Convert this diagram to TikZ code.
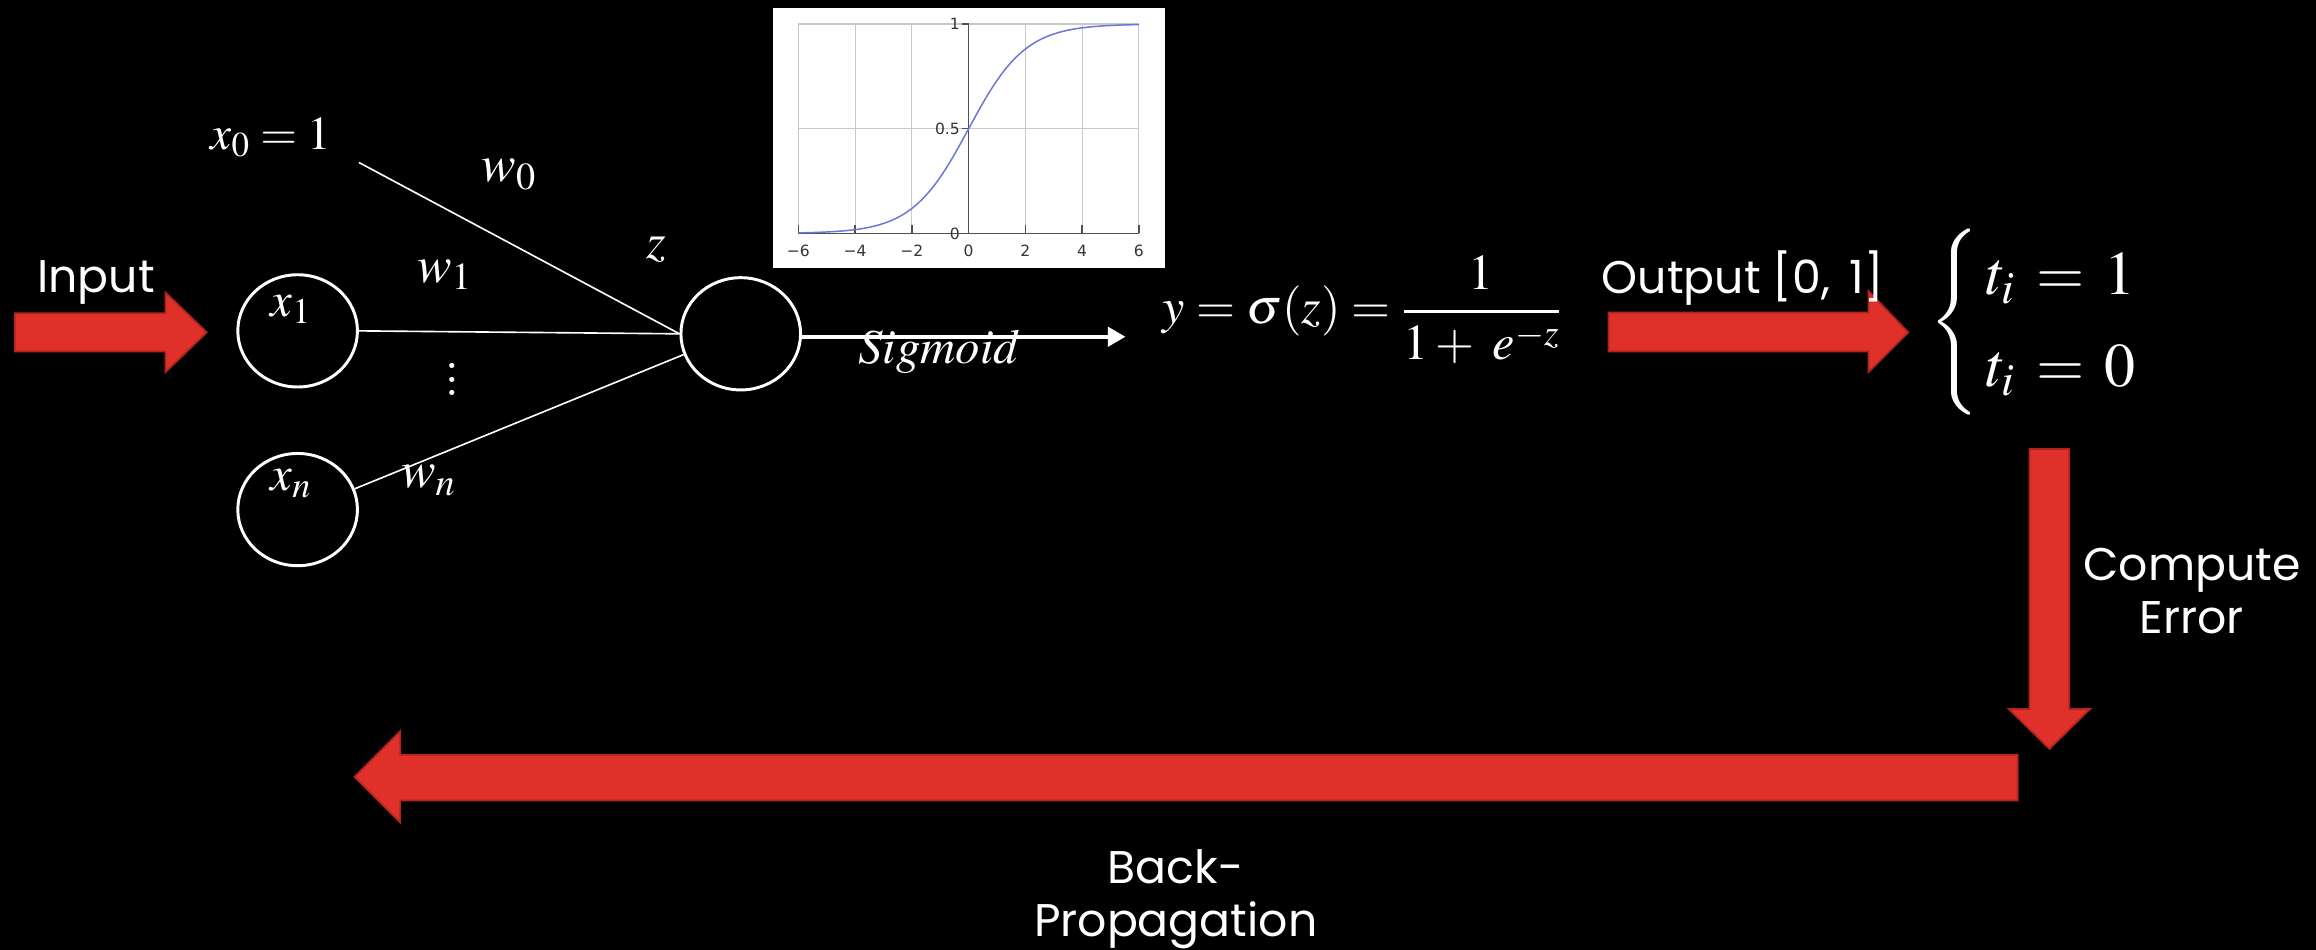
\documentclass[tikz,border=0pt]{standalone}
\usepackage{amsmath}
\usepackage{mathptmx}
\usepackage{fontspec}
\setsansfont{Poppins}
\newfontfamily\tickfont{DejaVu Sans}
\usetikzlibrary{shapes.geometric,arrows.meta}
\definecolor{arrred}{HTML}{E0302A}
\definecolor{arrborder}{HTML}{B02420}
\definecolor{curveblue}{HTML}{6B76D6}
\definecolor{gridgray}{HTML}{C8C8C8}
\definecolor{axisgray}{HTML}{505050}
\tikzset{
 neuron/.style={ellipse, draw=white, line width=2pt, minimum width=81pt, minimum height=76pt, inner sep=0pt},
 wire/.style={draw=white, line width=1.1pt},
 gothic/.style={text=white, font=\sffamily\fontsize{31}{36}\selectfont, inner sep=0pt},
 mathlbl/.style={text=white, inner sep=0pt, font=\fontsize{#1}{#1}\selectfont},
 redarrow/.style={fill=arrred, draw=arrborder, line width=1.2pt, line join=miter},
 ticklbl/.style={text=black!80, inner sep=0pt, font=\tickfont\fontsize{10.5}{12}\selectfont},
 gridline/.style={draw=gridgray, line width=0.8pt},
 axisline/.style={draw=axisgray, line width=1pt},
}
\begin{document}
\begin{tikzpicture}[x=1pt,y=-1pt]
\useasboundingbox (0,0) rectangle (1568,643);
\fill[black] (0,0) rectangle (1568,643);
% sigmoid plot
\fill[white] (523,5.6) rectangle (789,181.6);
\foreach \t in {-6,-4,...,6} \draw[gridline] ({655.8+\t*19.21},16.3) -- ({655.8+\t*19.21},158);
\foreach \v in {0.5,1} \draw[gridline] (540.5,{158-\v*141.7}) -- (771,{158-\v*141.7});
\draw[axisline] (540.5,158) -- (771,158);
\draw[axisline] (655.8,16.3) -- (655.8,158);
\foreach \t in {-6,-4,...,6} \draw[axisline] ({655.8+\t*19.21},158) -- ({655.8+\t*19.21},152);
\foreach \v in {0,0.5,1} \draw[axisline] (651,{158-\v*141.7}) -- (655.8,{158-\v*141.7});
\draw[curveblue, line width=1pt] plot[domain=-6:6, samples=120, smooth] ({655.8+\x*19.21},{158-141.7/(1+exp(-\x))});
\foreach \t/\n/\l in {-6/a/6,-4/b/4,-2/c/2} \node[ticklbl] (xt\n) at ({655.8+\t*19.21},170) {−\l};
\foreach \t/\n in {0/d,2/e,4/f,6/g} \node[ticklbl] (xt\n) at ({655.8+\t*19.21},170) {\t};
\node[ticklbl, anchor=east] (yt1) at (650,16.3) {1};
\node[ticklbl, anchor=east] (yt05) at (650,87) {0.5};
\node[ticklbl, anchor=east] (yt0) at (650,158) {0};
% red arrows
\draw[redarrow] (10,212) -- (112,212) -- (112,198) -- (140,225) -- (112,252) -- (112,238) -- (10,238) -- cycle;
\draw[redarrow] (1089,211.5) -- (1265,211.5) -- (1265,197) -- (1292,225) -- (1265,252) -- (1265,238) -- (1089,238) -- cycle;
\draw[redarrow] (1374,304) -- (1401,304) -- (1401,480) -- (1415,480) -- (1387.5,507) -- (1360,480) -- (1374,480) -- cycle;
\draw[redarrow] (1366,511) -- (271,511) -- (271,495) -- (240,526) -- (271,557) -- (271,542) -- (1366,542) -- cycle;
% neurons
\node[neuron] (x1) at (201.5,224) {};
\node[neuron] (xn) at (201.5,345) {};
\node[neuron] (out) at (501.5,226) {};
\coordinate (x0end) at (243,110);
\draw[wire] (x0end) -- (out.west);
\draw[wire] (x1.east) -- (out.west);
\draw[wire] (xn.20) -- (out.200);
\coordinate (sigend) at (762,228);
\draw[white, line width=2.7pt, -{Triangle[length=12pt,width=13pt]}] (out.east |- sigend) -- (sigend);
% labels
\node[gothic, anchor=base] (inlbl) at (65,198) {Input};
\node[mathlbl=32, anchor=base] (x0) at (183.5,101) {$x_0 = 1$};
\node[mathlbl=35, anchor=base] (w0) at (344.5,123) {$w_0$};
\node[mathlbl=35, anchor=base] (w1) at (301,191) {$w_1$};
\node[mathlbl=35, anchor=base] (wn) at (290,330) {$w_n$};
\node[mathlbl=34, anchor=base] (zl) at (444,175) {$z$};
\node[mathlbl=33, anchor=base] (x1l) at (197,214) {$x_1$};
\node[mathlbl=33, anchor=base] (xnl) at (197,332) {$x_n$};
\node[mathlbl=42] (dots) at (306,257) {\vbox{\baselineskip=9pt\hbox{.}\hbox{.}\hbox{.}}};
\node[mathlbl=33, anchor=base] (sig) at (636,246) {$Sigmoid$};
\node[mathlbl=34, anchor=west] (formula) at (787,210) {$\displaystyle y=\sigma(z)=\genfrac{}{}{2.4pt}{0}{1}{1+\;e^{-z}}$};
\node[gothic, anchor=base] (outlbl) at (1180,199) {Output [0,\ \,1]};
\node[text=white, inner sep=0pt, font=\fontsize{42}{52}\selectfont, anchor=west] (cases) at (1306,218) {$\begin{cases} \,t_i \,=\, 1\\ \,t_i \,=\, 0\end{cases}$};
\node[gothic, align=center] (err) at (1484,400) {Compute\\Error};
\node[gothic, align=center] (bp) at (796,609) {Back-\\Propagation};
\end{tikzpicture}
\end{document}
